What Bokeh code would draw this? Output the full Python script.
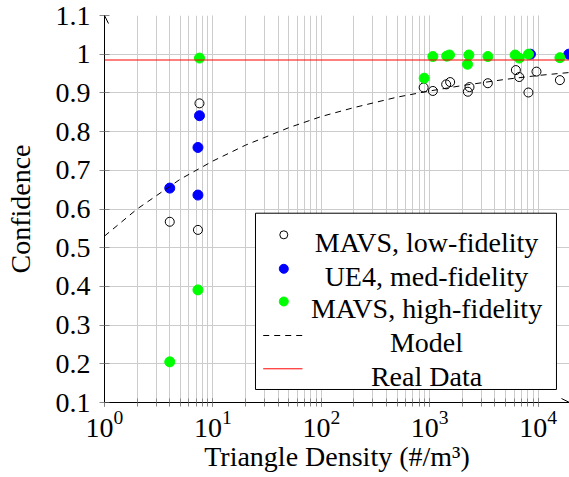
import numpy as np
from bokeh.plotting import figure
from bokeh.models import (Range1d, LinearScale, FixedTicker, Arrow, OpenHead,
                          Span, CustomJSTickFormatter)
from bokeh.core.properties import value
from bokeh.embed import file_html
from bokeh.resources import INLINE

# ---------------- data ----------------
LOW_X = [4.0, 7.28, 7.52, 880, 1070, 1420, 1545, 2250, 2330, 3440, 6240, 6700, 8150, 9670, 15900]
LOW_Y = [0.567, 0.546, 0.873, 0.914, 0.905, 0.922, 0.928, 0.903, 0.915, 0.925, 0.959, 0.941, 0.901, 0.955, 0.933]

MED_X = [4.0, 7.28, 7.28, 7.52, 8510, 19200]
MED_Y = [0.654, 0.636, 0.759, 0.841, 1.0, 1.0]

HIGH_X = [4.0, 7.28, 7.52, 890, 1070, 1436, 1524, 2233, 2300, 3443, 6150, 6700, 8150, 15900]
HIGH_Y = [0.205, 0.391, 0.990, 0.938, 0.994, 0.995, 0.998, 0.974, 0.998, 0.994, 0.998, 0.990, 1.0, 0.991]

MODEL_X = [1, 2, 5, 10, 20, 50, 100, 200, 500, 1000, 2000, 5000, 10000, 20000]
MODEL_Y = [0.530, 0.600, 0.677, 0.724, 0.765, 0.810, 0.839, 0.862, 0.889, 0.905, 0.919, 0.935, 0.945, 0.953]

REAL_Y = 0.985

Y_TICKS = [0.1, 0.2, 0.3, 0.4, 0.5, 0.6, 0.7, 0.8, 0.9, 1.0, 1.1]
LEGEND_LABELS = ["MAVS, low-fidelity", "UE4, med-fidelity", "MAVS, high-fidelity", "Model", "Real Data"]
X_LABEL = "Triangle Density (#/m³)"
Y_LABEL = "Confidence"

# ---------------- layout / style ----------------
FONT = "Liberation Serif"
FS = "28px"
GRID = "#cccccc"
TICK = "#888888"

p = figure(width=569, height=477, x_axis_type="log",
           x_range=Range1d(1, 19500), y_range=Range1d(0.1, 1.1),
           output_backend="svg", toolbar_location=None,
           min_border_left=104, min_border_right=0, min_border_top=15, min_border_bottom=75)
p.outline_line_color = None

# fractional frame coordinates for legend / decorations
p.extra_x_ranges = {"frac": Range1d(0, 1)}
p.extra_x_scales = {"frac": LinearScale()}
p.extra_y_ranges = {"frac": Range1d(0, 1)}
p.extra_y_scales = {"frac": LinearScale()}

# grid
p.xgrid.grid_line_color = GRID
p.xgrid.minor_grid_line_color = GRID
p.ygrid.grid_line_color = GRID
p.ygrid.ticker = FixedTicker(ticks=Y_TICKS)

# axes
for ax in (p.xaxis[0], p.yaxis[0]):
    ax.axis_line_color = "black"
    ax.axis_line_width = 1
    ax.major_tick_line_color = TICK
    ax.minor_tick_line_color = TICK
    ax.major_label_text_font = FONT
    ax.major_label_text_font_size = FS
    ax.major_label_text_color = "black"
    ax.axis_label_text_font = FONT
    ax.axis_label_text_font_size = FS
    ax.axis_label_text_font_style = "normal"
    ax.axis_label_text_color = "black"

p.yaxis.axis_label = Y_LABEL
p.xaxis.axis_label = X_LABEL

p.yaxis.ticker = FixedTicker(ticks=Y_TICKS)
p.yaxis.formatter = CustomJSTickFormatter(code="return String(Math.round(tick * 10) / 10)")
p.yaxis.major_tick_in = 5
p.yaxis.major_tick_out = 5
p.yaxis.major_label_standoff = 9
p.yaxis.axis_label_standoff = 17

p.xaxis.major_tick_in = 4
p.xaxis.major_tick_out = 4
p.xaxis.minor_tick_in = 4
p.xaxis.minor_tick_out = 4
p.xaxis.major_label_standoff = 4
p.xaxis.axis_label_standoff = 1

# axis arrows
p.add_layout(Arrow(end=OpenHead(size=8, line_width=1, line_color="black"),
                   x_start=0, y_start=0, x_end=0, y_end=1, line_width=1, line_color="black",
                   x_range_name="frac", y_range_name="frac"))
p.add_layout(Arrow(end=OpenHead(size=8, line_width=1, line_color="black"),
                   x_start=0, y_start=0, x_end=1, y_end=0, line_width=1, line_color="black",
                   x_range_name="frac", y_range_name="frac"))

# data
p.scatter(LOW_X, LOW_Y, marker="circle", size=9, fill_color=None, line_color="black", line_width=1)
p.scatter(MED_X, MED_Y, marker="circle", size=10, fill_color="#0000ff", line_color="#0000ff", line_width=1)
p.add_layout(Span(location=REAL_Y, dimension="width", line_color="#ff0000", line_width=1))
p.scatter(HIGH_X, HIGH_Y, marker="circle", size=10, fill_color="#00ff00", line_color="#00ff00", line_width=1)
p.line(MODEL_X, MODEL_Y, line_color="black", line_width=1, line_dash="6 5")

# legend (drawn in fractional frame coordinates)
LBOX = dict(left=0.3247, right=0.9720, top=0.4891, bottom=0.0336)
ROWS = [0.4333, 0.3455, 0.2610, 0.1731, 0.0871]
BASE = [0.4142, 0.3264, 0.2418, 0.1540, 0.0680]
MX, TX = 0.3856, 0.6925
SW0, SW1 = 0.3413, 0.4258

p.quad(**LBOX, fill_color="white", line_color="black", line_width=1,
       x_range_name="frac", y_range_name="frac")
p.scatter([MX], [ROWS[0]], marker="circle", size=8, fill_color=None, line_color="black",
          line_width=1, x_range_name="frac", y_range_name="frac")
p.scatter([MX], [ROWS[1]], marker="circle", size=9, fill_color="#0000ff", line_color="#0000ff",
          x_range_name="frac", y_range_name="frac")
p.scatter([MX], [ROWS[2]], marker="circle", size=9, fill_color="#00ff00", line_color="#00ff00",
          x_range_name="frac", y_range_name="frac")
p.segment(x0=[SW0], y0=[ROWS[3]], x1=[SW1], y1=[ROWS[3]], line_color="black", line_width=1,
          line_dash="6 5", x_range_name="frac", y_range_name="frac")
p.segment(x0=[SW0], y0=[ROWS[4]], x1=[SW1], y1=[ROWS[4]], line_color="#ff0000", line_width=1,
          x_range_name="frac", y_range_name="frac")
p.text(x=[TX] * 5, y=BASE, text=LEGEND_LABELS, text_font=value(FONT), text_font_size=value(FS),
       text_align="center", text_baseline="alphabetic", text_color="black",
       x_range_name="frac", y_range_name="frac")

open("out.html", "w").write(file_html(p, INLINE))
